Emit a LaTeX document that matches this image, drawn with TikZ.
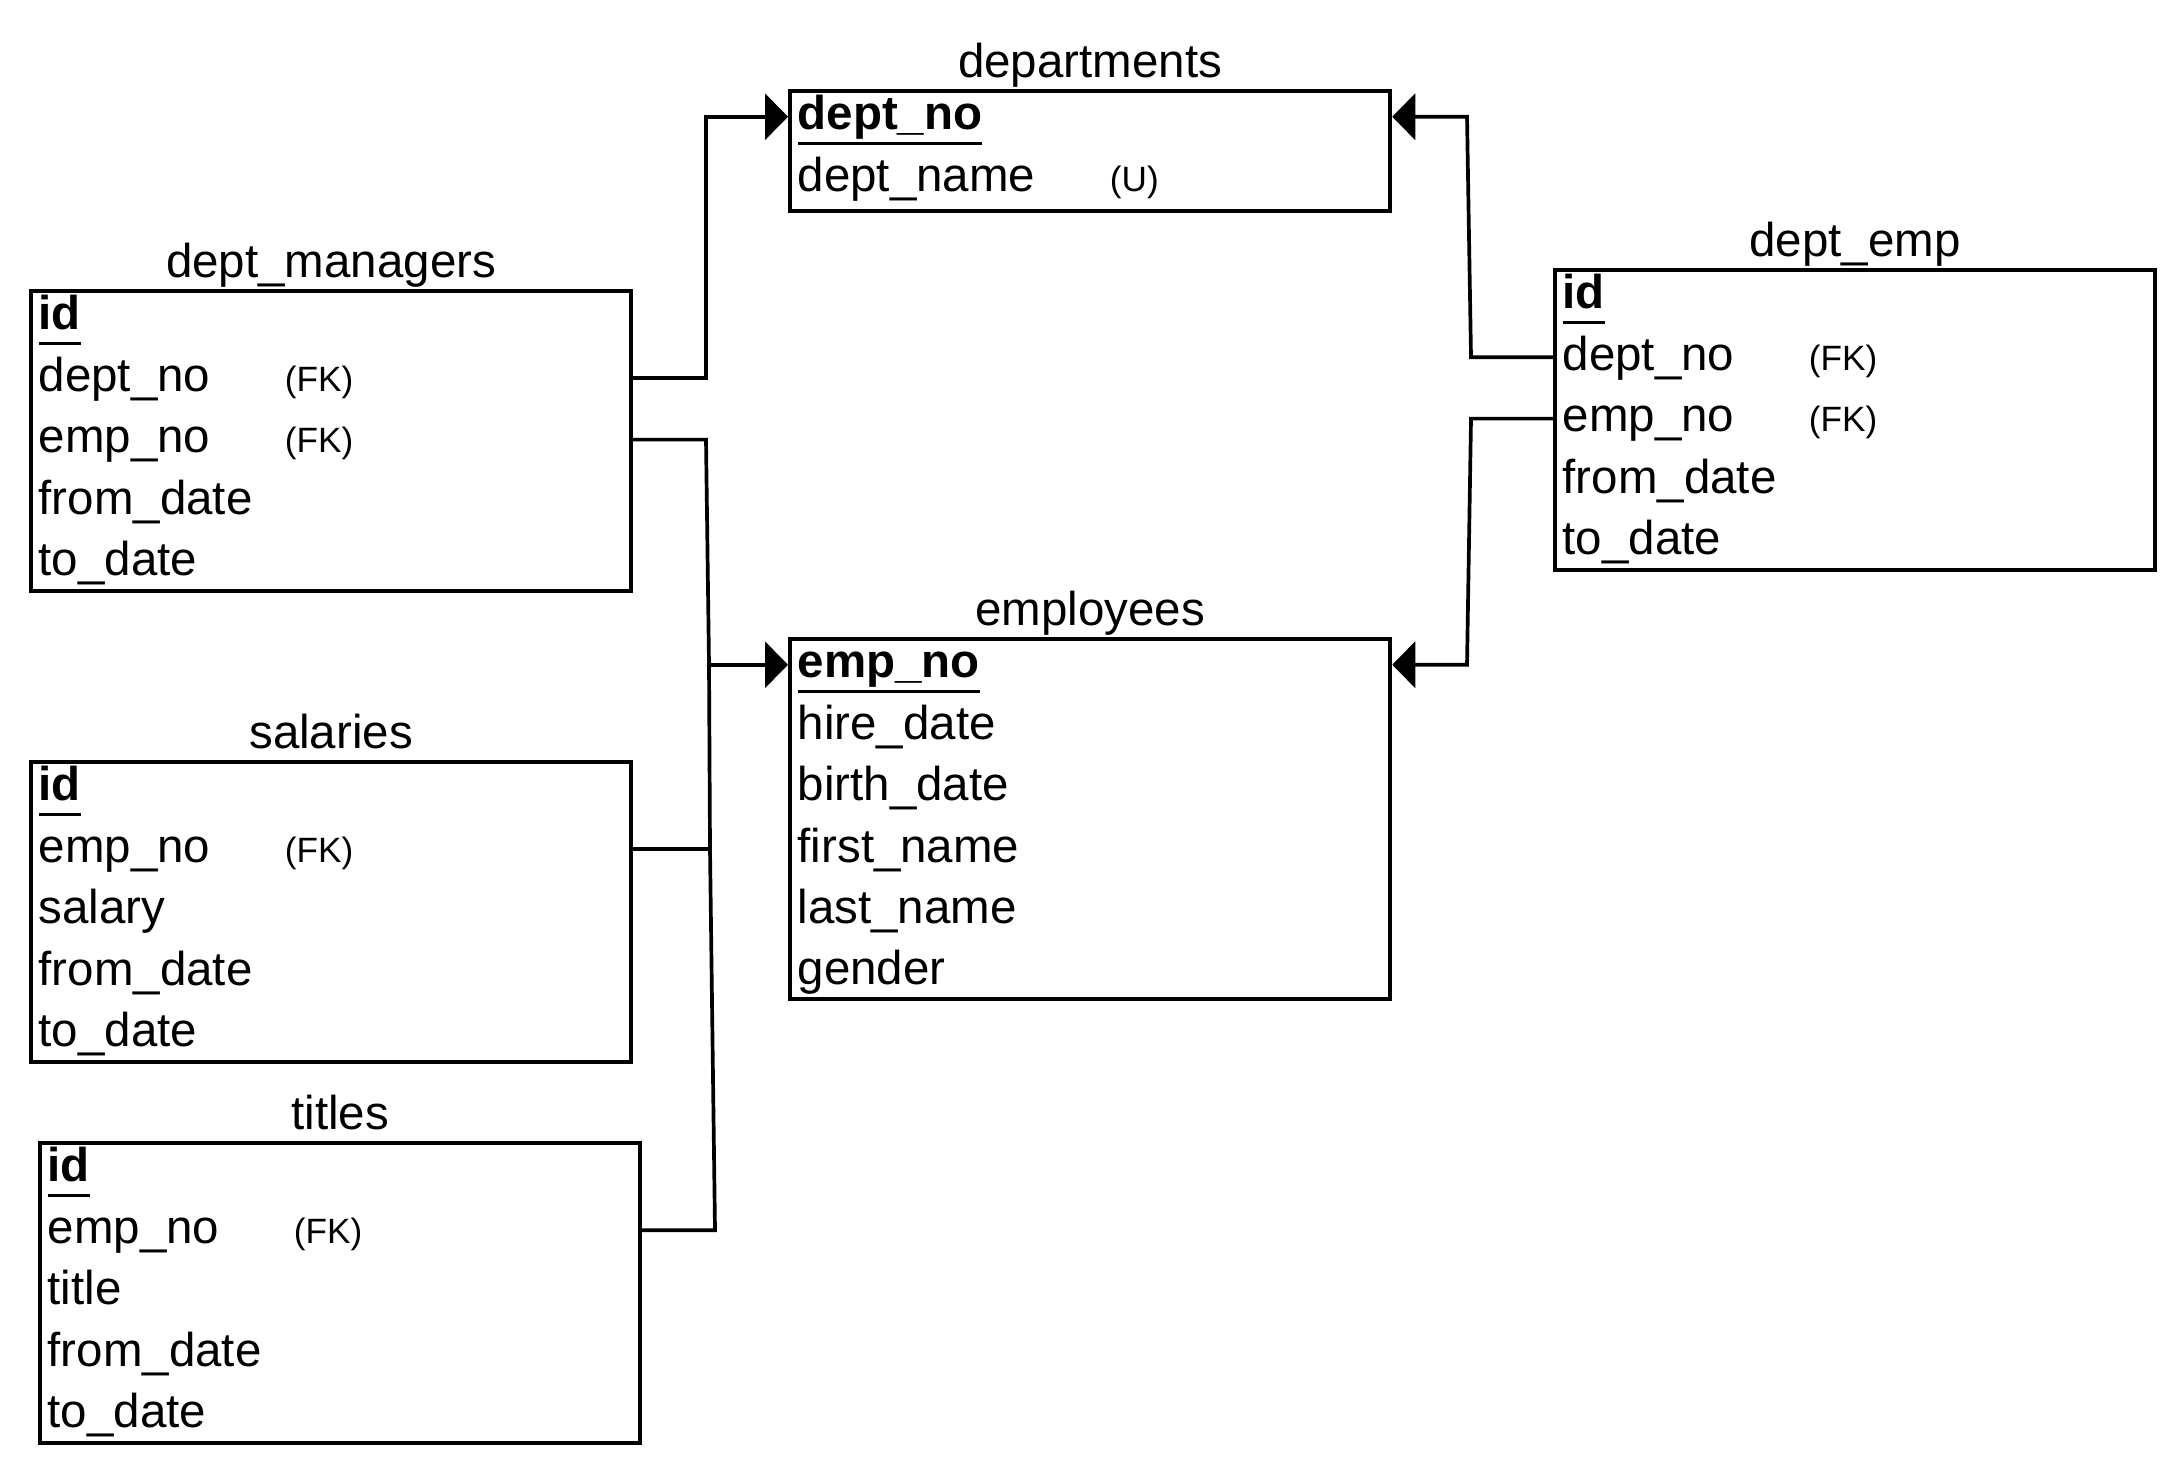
\documentclass[tikz,border=0pt]{standalone}
\usepackage{fontspec}
\setmainfont{Liberation Sans}
\usepackage{tikz}
\usetikzlibrary{arrows.meta}
\newsavebox\pkbox
\newcommand{\pkey}[1]{\sbox\pkbox{\textbf{#1}}\rlap{\rule[-0.33em]{\wd\pkbox}{1.1pt}}\usebox\pkbox}

\begin{document}
\begin{tikzpicture}[x=0.01cm,y=-0.01cm,
  tbl/.style={draw,line width=1.1pt,anchor=north west,inner sep=0pt,minimum width=6cm},
  fld/.style={anchor=north west,inner sep=0pt,text height=0.43cm,text depth=0.17cm,font=\fontsize{13.5}{16}\selectfont},
  ttl/.style={anchor=base,inner sep=0pt,font=\fontsize{13.5}{16}\selectfont},
  fk/.style={anchor=base west,inner sep=0pt,font=\fontsize{10}{12}\selectfont},
  link/.style={line width=1.05pt},
  arr/.style={line width=1.05pt,-{Triangle[length=0.23cm,width=0.46cm]}}]
\useasboundingbox (0,0) rectangle (2180,1468);

% departments
\node[tbl,minimum height=1.2cm] (dp) at (788,89) {};
\node[ttl] at ([yshift=0.12cm]dp.north) {departments};
\node[fld] (dp1) at ([xshift=0.09cm,yshift=0.03cm]dp.north west) {\pkey{dept\_no}};
\node[fld] (dp2) at (dp1.south west) {dept\_name};
\node[fk] at ([xshift=3.12cm]dp2.base west) {(U)};

% dept_managers
\node[tbl,minimum height=3cm] (dm) at (29,289) {};
\node[ttl] at ([yshift=0.12cm]dm.north) {dept\_managers};
\node[fld] (dm1) at ([xshift=0.09cm,yshift=0.03cm]dm.north west) {\pkey{id}};
\node[fld] (dm2) at (dm1.south west) {dept\_no};
\node[fld] (dm3) at (dm2.south west) {emp\_no};
\node[fld] (dm4) at (dm3.south west) {from\_date};
\node[fld] (dm5) at (dm4.south west) {to\_date};
\node[fk] at ([xshift=2.46cm]dm2.base west) {(FK)};
\node[fk] at ([xshift=2.46cm]dm3.base west) {(FK)};

% dept_emp
\node[tbl,minimum height=3cm] (de) at (1553,268) {};
\node[ttl] at ([yshift=0.12cm]de.north) {dept\_emp};
\node[fld] (de1) at ([xshift=0.09cm,yshift=0.03cm]de.north west) {\pkey{id}};
\node[fld] (de2) at (de1.south west) {dept\_no};
\node[fld] (de3) at (de2.south west) {emp\_no};
\node[fld] (de4) at (de3.south west) {from\_date};
\node[fld] (de5) at (de4.south west) {to\_date};
\node[fk] at ([xshift=2.46cm]de2.base west) {(FK)};
\node[fk] at ([xshift=2.46cm]de3.base west) {(FK)};

% employees
\node[tbl,minimum height=3.6cm] (em) at (788,637) {};
\node[ttl] at ([yshift=0.12cm]em.north) {employees};
\node[fld] (em1) at ([xshift=0.09cm,yshift=0.03cm]em.north west) {\pkey{emp\_no}};
\node[fld] (em2) at (em1.south west) {hire\_date};
\node[fld] (em3) at (em2.south west) {birth\_date};
\node[fld] (em4) at (em3.south west) {first\_name};
\node[fld] (em5) at (em4.south west) {last\_name};
\node[fld] (em6) at (em5.south west) {gender};

% salaries
\node[tbl,minimum height=3cm] (sa) at (29,760) {};
\node[ttl] at ([yshift=0.12cm]sa.north) {salaries};
\node[fld] (sa1) at ([xshift=0.09cm,yshift=0.03cm]sa.north west) {\pkey{id}};
\node[fld] (sa2) at (sa1.south west) {emp\_no};
\node[fld] (sa3) at (sa2.south west) {salary};
\node[fld] (sa4) at (sa3.south west) {from\_date};
\node[fld] (sa5) at (sa4.south west) {to\_date};
\node[fk] at ([xshift=2.46cm]sa2.base west) {(FK)};

% titles
\node[tbl,minimum height=3cm] (ti) at (38,1141) {};
\node[ttl] at ([yshift=0.12cm]ti.north) {titles};
\node[fld] (ti1) at ([xshift=0.09cm,yshift=0.03cm]ti.north west) {\pkey{id}};
\node[fld] (ti2) at (ti1.south west) {emp\_no};
\node[fld] (ti3) at (ti2.south west) {title};
\node[fld] (ti4) at (ti3.south west) {from\_date};
\node[fld] (ti5) at (ti4.south west) {to\_date};
\node[fk] at ([xshift=2.46cm]ti2.base west) {(FK)};

% links
\coordinate (l1) at (706,0);
\coordinate (l2) at (709,0);
\coordinate (l3) at (710,0);
\coordinate (l4) at (715,0);
\coordinate (r1) at (1471,0);
\coordinate (r2) at (1467,0);

\draw[arr] (dm.east |- dm2) -- (l1 |- dm2) -- (l1 |- dp1) -- (dp.west |- dp1);
\draw[link] (dm.east |- dm3) -- (l1 |- dm3) -- (l2 |- em1) -- (l3 |- sa2) -- (l4 |- ti2) -- (ti.east |- ti2);
\draw[arr] (l2 |- em1) -- (em.west |- em1);
\draw[link] (sa.east |- sa2) -- (l3 |- sa2);
\draw[arr] (de.west |- de2) -- (r1 |- de2) -- (r2 |- dp1) -- (dp.east |- dp1);
\draw[arr] (de.west |- de3) -- (r1 |- de3) -- (r2 |- em1) -- (em.east |- em1);
\end{tikzpicture}
\end{document}
